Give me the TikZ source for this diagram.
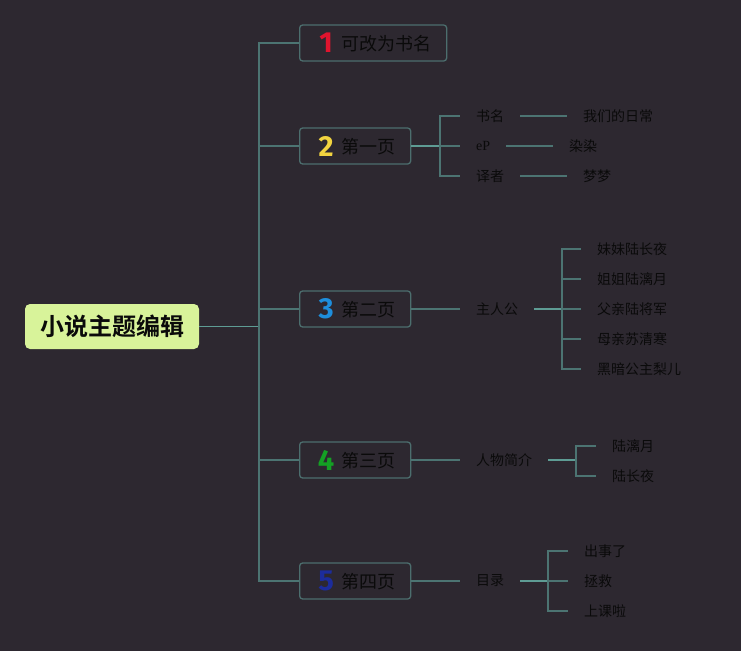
\documentclass[tikz,border=0pt]{standalone}
\usepackage{fontspec}
\setmainfont{Noto Sans CJK SC}
\newfontfamily\cjk{Noto Sans CJK SC}[BoldFont={Noto Sans CJK SC Bold}]
\newfontfamily\numfont{Fira Sans}[BoldFont={Fira Sans Bold}]
\newfontfamily\latinserif{Liberation Serif}
\definecolor{bg}{HTML}{2D2830}
\definecolor{ln}{HTML}{4C7472}
\definecolor{lnb}{HTML}{5E9C94}
\definecolor{bx}{HTML}{4C6E6E}
\definecolor{rootfill}{HTML}{D8F39A}
\definecolor{txt}{HTML}{0A0A0A}
\definecolor{nred}{HTML}{E0142E}
\definecolor{nyel}{HTML}{F2D440}
\definecolor{nblu}{HTML}{1E8EDC}
\definecolor{ngrn}{HTML}{14A024}
\definecolor{ndbl}{HTML}{1C2C9C}
\newcommand{\marknum}[3]{\makebox[22pt]{\raisebox{-1pt}{\numfont\bfseries\fontsize{29}{29}\selectfont\color{#1}#2}}\hspace{4pt}\raisebox{1.5pt}{#3}}
\begin{document}
\begin{tikzpicture}[x=1pt,y=-1pt,
  rootbox/.style={draw=none,fill=rootfill,rounded corners=5pt,minimum width=174pt,minimum height=45pt,
    font=\cjk\bfseries\fontsize{24}{24}\selectfont,text=txt,inner sep=0pt},
  pagebox/.style={draw=bx,line width=1.3pt,rounded corners=3pt,minimum height=36pt,inner xsep=15pt,inner ysep=0pt,
    font=\cjk\fontsize{18}{18}\selectfont,text=txt,anchor=west},
  lbl/.style={font=\cjk\fontsize{14}{14}\selectfont,text=txt,inner xsep=16pt,inner ysep=2pt,anchor=west},
  conn/.style={draw=ln,line width=1.3pt},
  connb/.style={draw=lnb,line width=1.3pt}]
\fill[bg] (0,0) rectangle (741,651);
\useasboundingbox (0,0) rectangle (741,651);

% root
\node[rootbox] (root) at (112,326.5) {小说主题编辑};
\coordinate (trunk) at (259,326.5);

% level 1
\node[pagebox,minimum width=147pt] (p1) at (299,43) {\marknum{nred}{1}{可改为书名}};
\node[pagebox,minimum width=111pt] (p2) at (299,146) {\marknum{nyel}{2}{第一页}};
\node[pagebox,minimum width=111pt] (p3) at (299,309) {\marknum{nblu}{3}{第二页}};
\node[pagebox,minimum width=111pt] (p4) at (299,460) {\marknum{ngrn}{4}{第三页}};
\node[pagebox,minimum width=111pt] (p5) at (299,581) {\marknum{ndbl}{5}{第四页}};

\draw[connb] (root.east) -- (trunk);
\foreach \p in {p1,p2,p3,p4,p5} \draw[conn] (trunk) |- (\p.west);

% page 2
\coordinate (j2) at (440,146);
\node[lbl] (a1) at (460,116) {书名};
\node[lbl] (a2) at (460,146) {\latinserif eP};
\node[lbl] (a3) at (460,176) {译者};
\node[lbl] (b1) at (567,116) {我们的日常};
\node[lbl] (b2) at (553,146) {染染};
\node[lbl] (b3) at (567,176) {梦梦};
\draw[connb] (p2.east) -- (j2);
\foreach \a in {a1,a2,a3} \draw[conn] (j2) |- (\a.west);
\draw[conn] (a1.east) -- (b1.west);
\draw[conn] (a2.east) -- (b2.west);
\draw[conn] (a3.east) -- (b3.west);

% page 3
\node[lbl] (c0) at (460,309) {主人公};
\coordinate (j3) at (562,309);
\node[lbl] (c1) at (581,249) {妹妹陆长夜};
\node[lbl] (c2) at (581,279) {姐姐陆漓月};
\node[lbl] (c3) at (581,309) {父亲陆将军};
\node[lbl] (c4) at (581,339) {母亲苏清寒};
\node[lbl] (c5) at (581,369) {黑暗公主梨儿};
\draw[conn] (p3.east) -- (c0.west);
\draw[connb] (c0.east) -- (j3);
\foreach \c in {c1,c2,c3,c4,c5} \draw[conn] (j3) |- (\c.west);

% page 4
\node[lbl] (d0) at (460,460) {人物简介};
\coordinate (j4) at (576,460);
\node[lbl] (d1) at (596,446) {陆漓月};
\node[lbl] (d2) at (596,476) {陆长夜};
\draw[conn] (p4.east) -- (d0.west);
\draw[connb] (d0.east) -- (j4);
\foreach \d in {d1,d2} \draw[conn] (j4) |- (\d.west);

% page 5
\node[lbl] (e0) at (460,581) {目录};
\coordinate (j5) at (548,581);
\node[lbl] (e1) at (568,551) {出事了};
\node[lbl] (e2) at (568,581) {拯救};
\node[lbl] (e3) at (568,611) {上课啦};
\draw[conn] (p5.east) -- (e0.west);
\draw[connb] (e0.east) -- (j5);
\foreach \e in {e1,e2,e3} \draw[conn] (j5) |- (\e.west);
\end{tikzpicture}
\end{document}
